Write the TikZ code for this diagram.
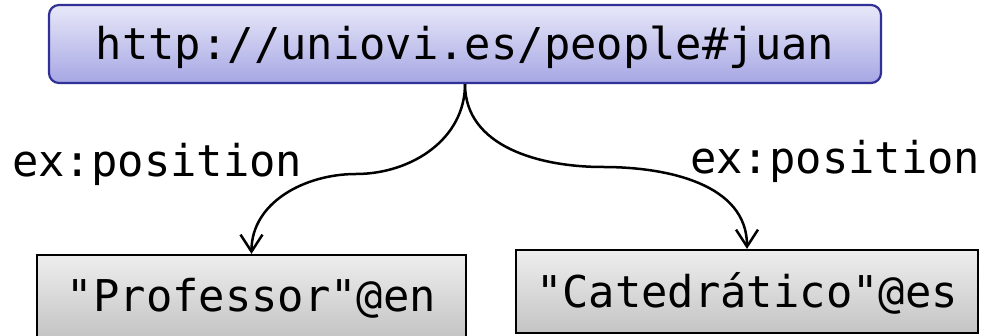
\documentclass[tikz,border=0pt]{standalone}
\usepackage{fontspec}
\setmonofont{DejaVu Sans Mono}
\usetikzlibrary{arrows.meta}
\definecolor{uritop}{RGB}{232,232,249}
\definecolor{uribot}{RGB}{166,166,228}
\definecolor{uriline}{RGB}{48,48,150}
\definecolor{littop}{RGB}{238,238,238}
\definecolor{litbot}{RGB}{196,196,196}
\begin{document}
\begin{tikzpicture}[x=1pt,y=-1pt,
  every node/.style={font=\fontsize{43.8pt}{50pt}\selectfont\ttfamily, inner sep=0pt},
  uribox/.style={draw=uriline, line width=2.2pt, rounded corners=10pt,
    top color=uritop, bottom color=uribot,
    text height=32pt, text depth=0pt},
  litbox/.style={draw=black, line width=2.2pt,
    top color=littop, bottom color=litbot,
    text height=32pt, text depth=0pt},
  edge label/.style={anchor=base west},
  link/.style={line width=2.5pt, -{Straight Barb[length=17pt,width=22pt,line width=2.5pt]}}]
  \useasboundingbox (0,0) rectangle (983,336);

  % subject resource
  \node[uribox, minimum width=832pt, minimum height=78pt] (uri) at (465,44)
    {http://uniovi.es/people\#juan};

  % literal objects
  \node[litbox, minimum width=429pt, minimum height=82pt] (lit1) at (251.5,296)
    {"Professor"@en};
  \node[litbox, minimum width=462pt, minimum height=83pt] (lit2) at (747,291.5)
    {"Catedrático"@es};

  % property labels
  \node[edge label] (lab1) at (12,177) {ex:position};
  \node[edge label] (lab2) at (690,174) {ex:position};

  % turning points of the two curved links
  \coordinate (bendL) at (356,174);
  \coordinate (bendR) at (603,167);

  \draw[link] (uri.south) to[out=-90,in=0] (bendL) to[out=180,in=90] (lit1.north);
  \draw[link] (uri.south) to[out=-90,in=180] (bendR) to[out=0,in=90] (lit2.north);
\end{tikzpicture}
\end{document}
